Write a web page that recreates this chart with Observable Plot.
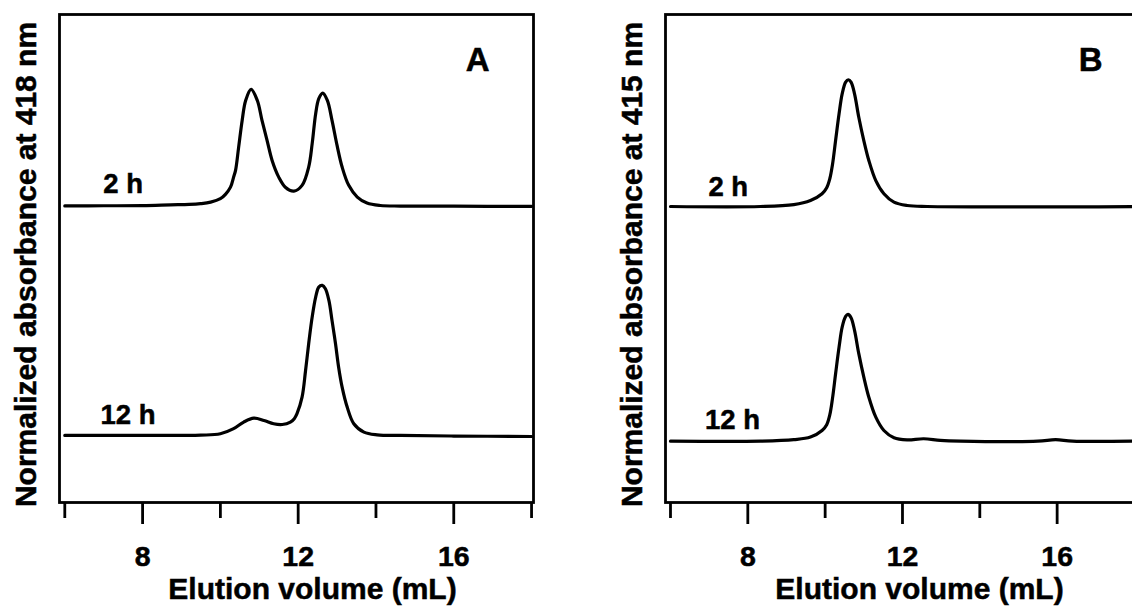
<!DOCTYPE html>
<html>
<head>
<meta charset="utf-8">
<script src="https://cdn.jsdelivr.net/npm/d3@7"></script>
<script src="https://cdn.jsdelivr.net/npm/@observablehq/plot@0.6"></script>
<style>
html, body { margin: 0; padding: 0; background: #fff; overflow: hidden; }
#wrap { position: relative; width: 1132px; height: 608px; overflow: hidden; background: #fff; }
#panelA, #panelB { position: absolute; top: 0; height: 608px; }
#panelA { left: 0; width: 566px; }
#panelB { left: 566px; width: 573px; }
#wrap svg { max-width: none !important; display: block; }
#wrap svg text { stroke: #000; stroke-width: 0.5px; }
</style>
</head>
<body>
<div id="wrap"><div id="panelA"></div><div id="panelB"></div></div>
<script>
// ---- Data (elution volume in mL, normalized absorbance above each trace's baseline) ----
const runNames = ["2 h", "12 h"];
const majorTicks = [8, 12, 16];
const minorTicks = [6, 10, 14, 18];
const xTitle = "Elution volume (mL)";
const yTitleA = "Normalized absorbance at 418 nm";
const yTitleB = "Normalized absorbance at 415 nm";

// Panel A, 2 h
const volA2 = [6.00, 7.00, 8.00, 8.72, 9.20, 9.49, 9.75, 10.00, 10.13, 10.26, 10.34, 10.39, 10.47, 10.56, 10.65, 10.79, 10.95, 11.07, 11.20, 11.33, 11.50, 11.67, 11.89, 12.10, 12.27, 12.36, 12.45, 12.53, 12.63, 12.75, 12.87, 13.00, 13.13, 13.30, 13.52, 13.77, 14.11, 14.63, 16.00, 18.00];
const absA2 = [0.000, 0.001, 0.002, 0.007, 0.010, 0.015, 0.025, 0.048, 0.077, 0.125, 0.192, 0.237, 0.392, 0.570, 0.703, 0.777, 0.703, 0.570, 0.437, 0.303, 0.192, 0.125, 0.099, 0.137, 0.259, 0.415, 0.615, 0.715, 0.752, 0.703, 0.570, 0.403, 0.259, 0.137, 0.059, 0.019, 0.003, -0.001, -0.002, -0.003];
// Panel A, 12 h
const volA12 = [6.00, 8.00, 9.49, 10.00, 10.34, 10.60, 10.86, 11.12, 11.37, 11.59, 11.80, 11.90, 11.97, 12.10, 12.19, 12.27, 12.36, 12.45, 12.53, 12.62, 12.70, 12.79, 12.87, 12.96, 13.04, 13.13, 13.26, 13.43, 13.69, 14.03, 14.63, 16.00, 18.00];
const absA12 = [0.000, 0.000, 0.002, 0.011, 0.045, 0.089, 0.115, 0.100, 0.078, 0.073, 0.089, 0.112, 0.145, 0.255, 0.433, 0.611, 0.789, 0.922, 0.989, 1.000, 0.978, 0.900, 0.767, 0.611, 0.455, 0.322, 0.189, 0.078, 0.022, 0.004, 0.000, -0.004, -0.007];
// Panel B, 2 h
const volB2 = [6.00, 8.33, 9.19, 9.62, 9.92, 10.04, 10.12, 10.19, 10.27, 10.36, 10.44, 10.53, 10.60, 10.67, 10.76, 10.87, 11.00, 11.13, 11.31, 11.52, 11.78, 12.12, 12.64, 18.00];
const absB2 = [0.000, 0.000, 0.013, 0.040, 0.085, 0.125, 0.185, 0.280, 0.440, 0.618, 0.751, 0.829, 0.845, 0.829, 0.751, 0.595, 0.440, 0.307, 0.173, 0.085, 0.029, 0.007, 0.000, 0.000];
// Panel B, 12 h
const volB12 = [6.00, 8.33, 9.19, 9.62, 9.92, 10.04, 10.12, 10.19, 10.27, 10.36, 10.44, 10.53, 10.59, 10.67, 10.76, 10.87, 11.00, 11.13, 11.31, 11.52, 11.78, 12.12, 12.55, 12.98, 13.50, 15.50, 15.96, 16.40, 18.00];
const absB12 = [0.000, 0.000, 0.010, 0.027, 0.071, 0.110, 0.175, 0.285, 0.449, 0.627, 0.760, 0.831, 0.845, 0.823, 0.738, 0.583, 0.427, 0.293, 0.160, 0.071, 0.023, 0.009, 0.016, 0.005, 0.000, 0.000, 0.010, 0.000, 0.000];

// vertical stacking offsets of each trace (normalized units)
const offsetsA = [1.977, 0.447];
const offsetsB = [1.973, 0.409];
// label anchor positions (data units)
const labelXA = [6.99, 6.92];
const labelYA = [2.063, 0.520];
const labelXB = [6.98, 6.89];
const labelYB = [2.042, 0.493];

const FONT = "'Liberation Sans', Arial, Helvetica, sans-serif";

function panel(opts) {
  const rows = [];
  opts.series.forEach((s, k) => {
    s.vol.forEach((v, i) => rows.push({vol: v, abs: s.abs[i] + opts.offsets[k], run: runNames[k]}));
  });
  const labels = runNames.map((n, k) => ({name: n, x: opts.labelX[k], y: opts.labelY[k]}));
  return Plot.plot({
    width: opts.width,
    height: 608,
    marginLeft: opts.ml,
    marginRight: opts.mr,
    marginTop: 14,
    marginBottom: 106,
    x: {domain: opts.xDomain},
    y: {domain: [0, 3.253], axis: null},
    style: {fontFamily: FONT, fontWeight: "bold", color: "black", background: "white", overflow: "visible", maxWidth: "none"},
    marks: [
      Plot.frame({stroke: "black", strokeWidth: 2.8}),
      Plot.line(rows, {x: "vol", y: "abs", z: "run", stroke: "black", strokeWidth: 3.2, curve: "catmull-rom"}),
      Plot.axisX({ticks: majorTicks, tickSize: 22, tickPadding: 21, fontSize: 28.5, strokeWidth: 2.8, label: null}),
      Plot.axisX({ticks: minorTicks, tickSize: 16, tickFormat: () => "", strokeWidth: 2.8, label: null}),
      Plot.text(labels, {x: "x", y: "y", text: "name", textAnchor: "start", lineAnchor: "bottom", fontSize: 27.5, fill: "black"}),
      Plot.text([opts.letter], {frameAnchor: "top-right", dx: opts.letterDx, dy: 56, textAnchor: "end", lineAnchor: "bottom", fontSize: 33, fill: "black"}),
      Plot.text([xTitle], {frameAnchor: "bottom", dx: opts.titleDx, dy: 96, textAnchor: "middle", lineAnchor: "bottom", fontSize: 30, fill: "black"}),
      Plot.text([opts.yTitle], {frameAnchor: "left", rotate: -90, dx: -24, dy: 6, textAnchor: "middle", lineAnchor: "bottom", fontSize: 30, fill: "black"})
    ]
  });
}

document.getElementById("panelA").append(panel({
  width: 566, ml: 59, mr: 33, xDomain: [5.864, 18.05],
  series: [{vol: volA2, abs: absA2}, {vol: volA12, abs: absA12}],
  offsets: offsetsA, labelX: labelXA, labelY: labelYA,
  letter: "A", letterDx: -44, titleDx: 16, yTitle: yTitleA
}));
document.getElementById("panelB").append(panel({
  width: 573, ml: 99, mr: 0, xDomain: [5.871, 18.13],
  series: [{vol: volB2, abs: absB2}, {vol: volB12, abs: absB12}],
  offsets: offsetsB, labelX: labelXB, labelY: labelYB,
  letter: "B", letterDx: -37, titleDx: 17, yTitle: yTitleB
}));
</script>
</body>
</html>
